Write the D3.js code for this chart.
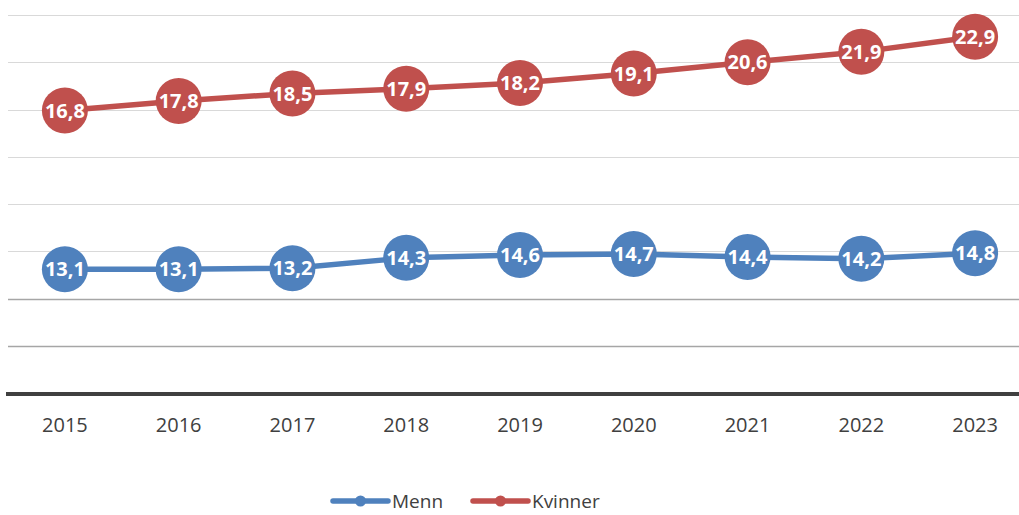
<!DOCTYPE html>
<html>
<head>
<meta charset="utf-8">
<script src="https://cdn.jsdelivr.net/npm/d3@7"></script>
<style>
  html, body { margin: 0; padding: 0; background: #ffffff; }
  svg { display: block; }
  text { font-family: 'Open Sans', 'DejaVu Sans', sans-serif; }
</style>
</head>
<body>
<svg id="chart" width="1019" height="515"></svg>
<script>
// ---- data ----
const years = ["2015", "2016", "2017", "2018", "2019", "2020", "2021", "2022", "2023"];
const menn = [13.1, 13.1, 13.2, 14.3, 14.6, 14.7, 14.4, 14.2, 14.8];
const kvinner = [16.8, 17.8, 18.5, 17.9, 18.2, 19.1, 20.6, 21.9, 22.9];
const seriesNames = ["Menn", "Kvinner"];
const seriesColors = ["#4f81bd", "#c0504d"];
const yTicks = [5, 10, 15, 20, 25, 30, 35, 40];

// ---- layout ----
const svg = d3.select("#chart");
const W = 1019, H = 515;
svg.append("rect").attr("width", W).attr("height", H).attr("fill", "#ffffff");

const plotLeft = 8, plotRight = 1032, plotTop = 15, plotBottom = 393;

const x = d3.scaleBand().domain(years).range([plotLeft, plotRight]).padding(0);
const y = d3.scaleLinear().domain([0, 40]).range([plotBottom, plotTop]);
const cx = d => x(d) + x.bandwidth() / 2;

// stacked line data
const table = years.map((yr, i) => ({ year: yr, Menn: menn[i], Kvinner: kvinner[i] }));
const stacked = d3.stack().keys(seriesNames)(table);

const fmt = d3.formatLocale({ decimal: ",", thousands: " ", grouping: [3], currency: ["", " kr"] }).format(".1f");

// gridlines
svg.append("g").selectAll("line")
  .data(yTicks)
  .join("line")
  .attr("x1", plotLeft).attr("x2", W)
  .attr("y1", d => Math.round(y(d)) + 0.5).attr("y2", d => Math.round(y(d)) + 0.5)
  .attr("stroke", d => d <= 10 ? "#a6a6a6" : "#d9d9d9")
  .attr("stroke-width", d => d <= 10 ? 1.5 : 1.2);

// baseline axis
svg.append("line")
  .attr("x1", plotLeft - 2).attr("x2", W)
  .attr("y1", y(0) + 1).attr("y2", y(0) + 1)
  .attr("stroke", "#404040").attr("stroke-width", 4);

// x axis labels
const xAxis = d3.axisBottom(x).tickSize(0).tickPadding(0);
const gx = svg.append("g").attr("transform", `translate(0,${plotBottom})`).call(xAxis);
gx.select(".domain").remove();
gx.selectAll("text")
  .attr("y", 39)
  .attr("dy", 0)
  .attr("fill", "#404040")
  .style("font-size", "20px")
  .style("font-family", "'Open Sans', sans-serif");

// lines
const line = d3.line()
  .x(d => cx(d.data.year))
  .y(d => y(d[1]));

stacked.forEach((s, si) => {
  svg.append("path")
    .datum(s)
    .attr("fill", "none")
    .attr("stroke", seriesColors[si])
    .attr("stroke-width", 5.5)
    .attr("stroke-linejoin", "round")
    .attr("d", line);
});

// markers + labels
stacked.forEach((s, si) => {
  const g = svg.append("g");
  g.selectAll("circle")
    .data(s)
    .join("circle")
    .attr("cx", d => cx(d.data.year))
    .attr("cy", d => y(d[1]))
    .attr("r", 23)
    .attr("fill", seriesColors[si]);
  g.selectAll("text")
    .data(s)
    .join("text")
    .attr("x", d => cx(d.data.year))
    .attr("y", d => y(d[1]))
    .attr("dy", "0.36em")
    .attr("text-anchor", "middle")
    .attr("fill", "#ffffff")
    .style("font-size", "20px")
    .style("font-weight", "700")
    .text(d => fmt(d[1] - d[0]));
});

// legend
const legend = svg.append("g");
const legendItems = [
  { name: seriesNames[0], color: seriesColors[0], x0: 333 },
  { name: seriesNames[1], color: seriesColors[1], x0: 473 }
];
const ly = 501;
legendItems.forEach(it => {
  legend.append("line")
    .attr("x1", it.x0).attr("x2", it.x0 + 55)
    .attr("y1", ly).attr("y2", ly)
    .attr("stroke", it.color).attr("stroke-width", 5.5)
    .attr("stroke-linecap", "round");
  legend.append("circle")
    .attr("cx", it.x0 + 27.5).attr("cy", ly).attr("r", 5.5)
    .attr("fill", it.color);
  legend.append("text")
    .attr("x", it.x0 + 59).attr("y", ly)
    .attr("dy", "0.35em")
    .attr("fill", "#404040")
    .style("font-size", "19px")
    .text(it.name);
});
</script>
</body>
</html>
